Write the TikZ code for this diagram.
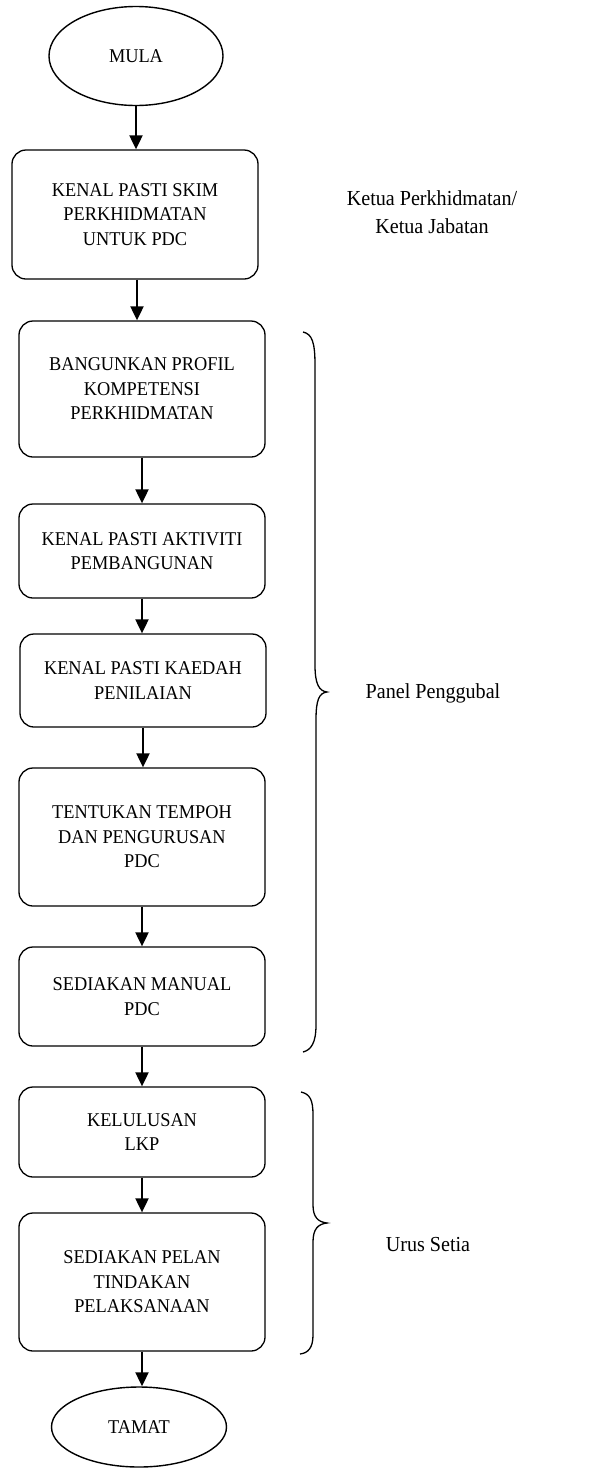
\documentclass[tikz,border=0pt]{standalone}
\usepackage{fontspec}
\setmainfont[FakeStretch=0.94]{Liberation Serif}
\usetikzlibrary{shapes.geometric,arrows.meta,calc}
\tikzset{
  stepbox/.style={draw,line width=1.3pt,rounded corners=14pt,minimum width=246pt,align=center,inner sep=0pt,font=\fontsize{19.5}{24.5}\selectfont},
  term/.style={draw,ellipse,line width=1.4pt,inner sep=0pt,font=\fontsize{19.5}{24.5}\selectfont},
  arr/.style={line width=2pt,-{Triangle[length=14pt,width=13pt]}},
  brace/.style={line width=1.3pt},
  role/.style={align=center,font=\fontsize{21.4}{28}\selectfont}
}
\begin{document}
\begin{tikzpicture}[x=1pt,y=-1pt]
\useasboundingbox (0,0) rectangle (613,1470);
\node[term,minimum width=174pt,minimum height=99pt] (mula) at (136,56) {MULA};
\node[stepbox,minimum height=129pt] (b1) at (135,214.5) {KENAL PASTI SKIM\\PERKHIDMATAN\\UNTUK PDC};
\node[stepbox,minimum height=136pt] (b2) at (142,389) {BANGUNKAN PROFIL\\KOMPETENSI\\PERKHIDMATAN};
\node[stepbox,minimum height=94pt] (b3) at (142,551) {KENAL PASTI AKTIVITI\\PEMBANGUNAN};
\node[stepbox,minimum height=93pt] (b4) at (143,680.5) {KENAL PASTI KAEDAH\\PENILAIAN};
\node[stepbox,minimum height=138pt] (b5) at (142,837) {TENTUKAN TEMPOH\\DAN PENGURUSAN\\PDC};
\node[stepbox,minimum height=99pt] (b6) at (142,996.5) {SEDIAKAN MANUAL\\PDC};
\node[stepbox,minimum height=90pt] (b7) at (142,1132) {KELULUSAN\\LKP};
\node[stepbox,minimum height=138pt] (b8) at (142,1282) {SEDIAKAN PELAN\\TINDAKAN\\PELAKSANAAN};
\node[term,minimum width=175pt,minimum height=80pt] (tamat) at (139,1427) {TAMAT};

\draw[arr] (mula.south) -- (mula.south |- b1.north);
\draw[arr] ([xshift=2pt]b1.south) -- ([xshift=2pt]b1.south |- b2.north);
\draw[arr] (b2.south) -- (b2.south |- b3.north);
\draw[arr] (b3.south) -- (b3.south |- b4.north);
\draw[arr] (b4.south) -- (b4.south |- b5.north);
\draw[arr] (b5.south) -- (b5.south |- b6.north);
\draw[arr] (b6.south) -- (b6.south |- b7.north);
\draw[arr] (b7.south) -- (b7.south |- b8.north);
\draw[arr] (b8.south) -- (b8.south |- tamat.north);

\node[role] (r1) at (432,212) {Ketua Perkhidmatan/\\Ketua Jabatan};
\node[role] (r2) at (433,693) {Panel Penggubal};
\node[role] (r3) at (428,1245) {Urus Setia};

\draw[brace] (303,332) .. controls (312,334) and (315,342) .. (315,365) -- (315,665)
  .. controls (315,684) and (319,691) .. (327,692)
  .. controls (319,693) and (316,700) .. (316,720) -- (316,1025)
  .. controls (316,1043) and (311,1050) .. (303,1052);
\draw[brace] (301,1092) .. controls (310,1094) and (313,1100) .. (313,1115) -- (313,1205)
  .. controls (313,1217) and (318,1222) .. (327,1223)
  .. controls (318,1224) and (313,1229) .. (313,1242) -- (313,1335)
  .. controls (313,1348) and (308,1353) .. (300,1354);
\end{tikzpicture}
\end{document}
